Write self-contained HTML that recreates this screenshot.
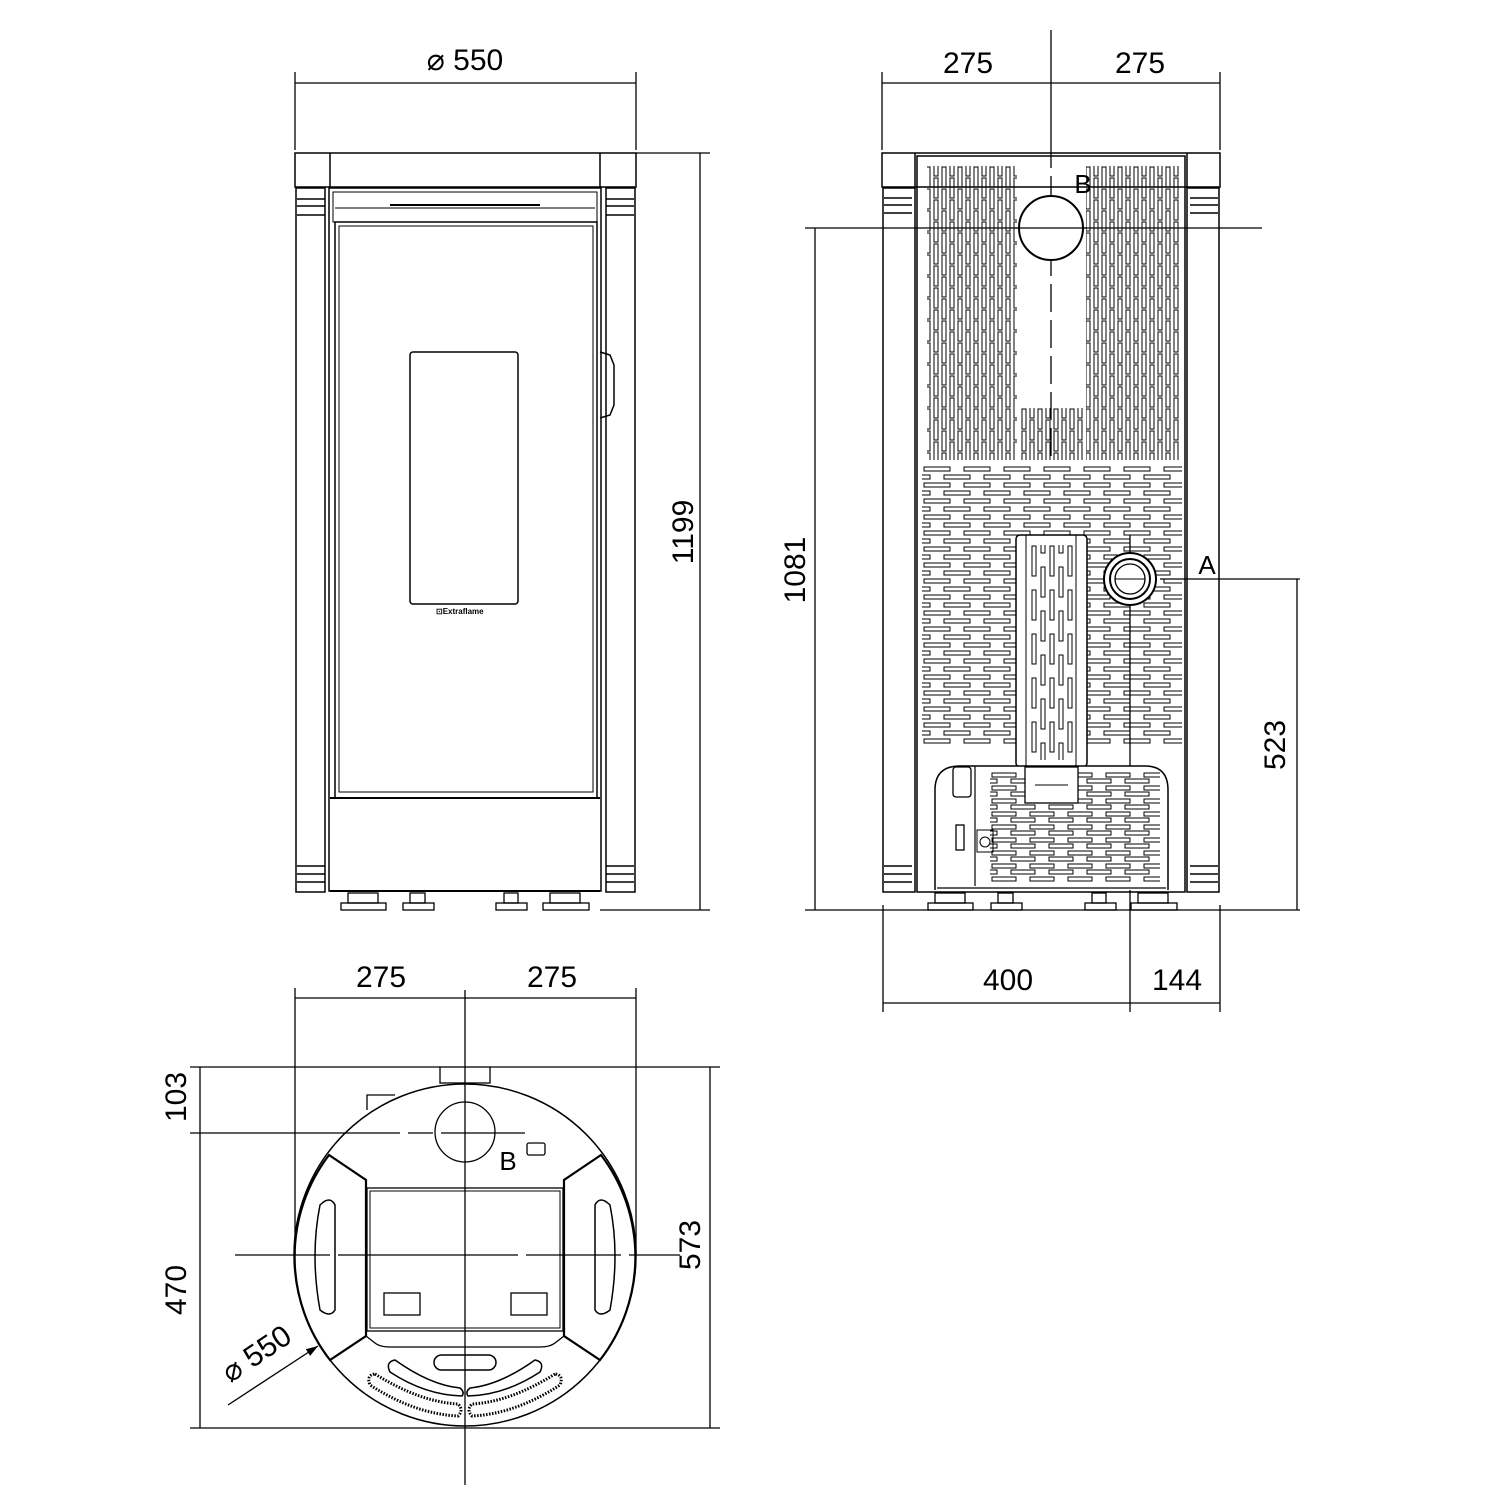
<!DOCTYPE html>
<html><head><meta charset="utf-8"><style>html,body{margin:0;padding:0;background:#fff}svg{display:block}</style></head>
<body>
<svg width="1500" height="1500" viewBox="0 0 1500 1500" xmlns="http://www.w3.org/2000/svg" font-family="Liberation Sans, sans-serif" fill="none" stroke="#000">
<defs>
<pattern id="vs" x="925" y="232" width="16" height="22" patternUnits="userSpaceOnUse">
<rect x="1" y="1" width="4" height="20" stroke-width="1"/>
<rect x="9" y="12" width="4" height="20" stroke-width="1"/>
<rect x="9" y="-10" width="4" height="20" stroke-width="1"/>
</pattern>
<pattern id="hs" x="922" y="466" width="40" height="16" patternUnits="userSpaceOnUse">
<rect x="2" y="1" width="26" height="4" stroke-width="1"/>
<rect x="22" y="9" width="26" height="4" stroke-width="1"/>
<rect x="-18" y="9" width="26" height="4" stroke-width="1"/>
</pattern>
<pattern id="hs2" x="990" y="772" width="38" height="13" patternUnits="userSpaceOnUse">
<rect x="2" y="1" width="24" height="4" stroke-width="1"/>
<rect x="21" y="7" width="24" height="4" stroke-width="1"/>
<rect x="-17" y="7" width="24" height="4" stroke-width="1"/>
</pattern>
<pattern id="ps" x="1030" y="545" width="18" height="44" patternUnits="userSpaceOnUse">
<rect x="2" y="1" width="4" height="30" stroke-width="1"/>
<rect x="11" y="22" width="4" height="30" stroke-width="1"/>
<rect x="11" y="-22" width="4" height="30" stroke-width="1"/>
</pattern>
<marker id="ar" markerWidth="12" markerHeight="8" refX="12" refY="4" orient="auto" markerUnits="userSpaceOnUse"><path d="M0,0 L12,4 L0,8Z" fill="#000" stroke="none"/></marker>
</defs>

<!-- ================= FRONT VIEW ================= -->
<g stroke-width="1.3">
<line x1="295" y1="72" x2="295" y2="150"/><line x1="636" y1="72" x2="636" y2="150"/>
<line x1="295" y1="83" x2="636" y2="83"/>
<line x1="636" y1="153" x2="710" y2="153"/><line x1="600" y1="910" x2="710" y2="910"/>
<line x1="700" y1="153" x2="700" y2="910"/>
</g>
<g fill="#000" stroke="none" font-size="30">
<text x="465" y="70" text-anchor="middle">⌀  550</text>
<text transform="translate(693,532) rotate(-90)" text-anchor="middle">1199</text>
</g>
<g stroke-width="1.5">
<rect x="295" y="153" width="341" height="34"/>
<line x1="330" y1="153" x2="330" y2="187"/><line x1="600" y1="153" x2="600" y2="187"/>
<rect x="296" y="188" width="29" height="704"/>
<rect x="606" y="188" width="29" height="704"/>
<line x1="297" y1="199" x2="325" y2="199"/><line x1="297" y1="206" x2="325" y2="206"/><line x1="297" y1="215" x2="325" y2="215"/>
<line x1="606" y1="199" x2="634" y2="199"/><line x1="606" y1="206" x2="634" y2="206"/><line x1="606" y1="215" x2="634" y2="215"/>
<line x1="297" y1="866" x2="325" y2="866"/><line x1="297" y1="874" x2="325" y2="874"/><line x1="297" y1="882" x2="325" y2="882"/>
<line x1="606" y1="866" x2="634" y2="866"/><line x1="606" y1="874" x2="634" y2="874"/><line x1="606" y1="882" x2="634" y2="882"/>
<rect x="329" y="188" width="272" height="703"/>
<rect x="333" y="192" width="264" height="30" stroke-width="1"/>
<line x1="335" y1="208" x2="595" y2="208" stroke-width="1"/>
<line x1="390" y1="205" x2="540" y2="205" stroke-width="2"/>
<rect x="335" y="222" width="262" height="576"/>
<rect x="339" y="226" width="254" height="566" stroke-width="1"/>
<rect x="410" y="352" width="108" height="252" rx="3"/>
<path d="M600 352 L610 355 L614 365 L614 405 L610 415 L600 418"/>
<line x1="330" y1="798" x2="600" y2="798" stroke-width="2"/>
<line x1="330" y1="891" x2="600" y2="891" stroke-width="2"/>
</g>
<text x="436" y="614" font-size="8" font-weight="bold" fill="#000" stroke="none">⊡Extraflame</text>
<g stroke-width="1.3">
<rect x="341" y="903" width="45" height="7"/><rect x="348" y="893" width="30" height="10"/>
<rect x="403" y="903" width="31" height="7"/><rect x="410" y="893" width="15" height="10"/>
<rect x="496" y="903" width="31" height="7"/><rect x="504" y="893" width="14" height="10"/>
<rect x="543" y="903" width="46" height="7"/><rect x="550" y="893" width="30" height="10"/>
</g>

<!-- ================= REAR VIEW ================= -->
<g stroke-width="1.3">
<line x1="882" y1="72" x2="882" y2="150"/><line x1="1220" y1="72" x2="1220" y2="150"/>
<line x1="882" y1="83" x2="1220" y2="83"/>
<line x1="1051" y1="30" x2="1051" y2="140"/>
<line x1="805" y1="228" x2="1262" y2="228"/>
<line x1="815" y1="228" x2="815" y2="910"/>
<line x1="805" y1="910" x2="1300" y2="910"/>
<line x1="1160" y1="579" x2="1300" y2="579"/>
<line x1="1297" y1="579" x2="1297" y2="910"/>
<line x1="883" y1="905" x2="883" y2="1012"/><line x1="1220" y1="905" x2="1220" y2="1012"/>
<line x1="1130" y1="535" x2="1130" y2="1012"/>
<line x1="883" y1="1003" x2="1220" y2="1003"/>
</g>
<g fill="#000" stroke="none" font-size="30">
<text x="968" y="73" text-anchor="middle">275</text>
<text x="1140" y="73" text-anchor="middle">275</text>
<text transform="translate(805,570) rotate(-90)" text-anchor="middle">1081</text>
<text transform="translate(1285,745) rotate(-90)" text-anchor="middle">523</text>
<text x="1008" y="990" text-anchor="middle">400</text>
<text x="1177" y="990" text-anchor="middle">144</text>
<text x="1207" y="574" text-anchor="middle" font-size="26">A</text>
<text x="1083" y="193" text-anchor="middle" font-size="26">B</text>
</g>
<g stroke-width="1.5">
<rect x="882" y="153" width="338" height="34"/>
<line x1="915" y1="153" x2="915" y2="187"/><line x1="1187" y1="153" x2="1187" y2="187"/>
<rect x="883" y="188" width="32" height="704"/>
<rect x="1187" y="188" width="32" height="704"/>
<line x1="884" y1="198" x2="912" y2="198"/><line x1="884" y1="205" x2="912" y2="205"/><line x1="884" y1="213" x2="912" y2="213"/>
<line x1="1190" y1="198" x2="1218" y2="198"/><line x1="1190" y1="205" x2="1218" y2="205"/><line x1="1190" y1="213" x2="1218" y2="213"/>
<line x1="884" y1="866" x2="912" y2="866"/><line x1="884" y1="874" x2="912" y2="874"/><line x1="884" y1="882" x2="912" y2="882"/>
<line x1="1190" y1="866" x2="1218" y2="866"/><line x1="1190" y1="874" x2="1218" y2="874"/><line x1="1190" y1="882" x2="1218" y2="882"/>
<rect x="917" y="156" width="268" height="736"/>
</g>
<rect x="927" y="166" width="90" height="294" fill="url(#vs)" stroke="none"/>
<rect x="1086" y="166" width="94" height="294" fill="url(#vs)" stroke="none"/>
<rect x="1019" y="408" width="66" height="52" fill="url(#vs)" stroke="none"/>
<line x1="1051" y1="140" x2="1051" y2="460" stroke-width="1.3" stroke-dasharray="28 8"/>
<circle cx="1051" cy="228" r="32" fill="#fff" stroke-width="2"/>
<line x1="1015" y1="228" x2="1087" y2="228" stroke-width="1.3"/>
<rect x="922" y="466" width="260" height="280" fill="url(#hs)" stroke="none"/>
<rect x="1016" y="535" width="71" height="232" rx="4" fill="#fff" stroke-width="1.5"/>
<rect x="1026" y="535" width="50" height="232" stroke-width="1"/>
<rect x="1030" y="545" width="44" height="215" fill="url(#ps)" stroke="none"/>
<circle cx="1130" cy="579" r="26" fill="#fff" stroke-width="2"/>
<circle cx="1130" cy="579" r="20" stroke-width="2"/>
<circle cx="1130" cy="579" r="15" stroke-width="1.3"/>
<line x1="1115" y1="579" x2="1145" y2="579" stroke-width="1"/>
<path d="M935 890 L935 790 Q935 766 960 766 L1145 766 Q1168 766 1168 790 L1168 890" fill="#fff" stroke-width="1.5"/>
<rect x="990" y="772" width="170" height="110" fill="url(#hs2)" stroke="none"/>
<line x1="975" y1="766" x2="975" y2="886" stroke-width="1.2"/>
<rect x="953" y="767" width="18" height="30" rx="3" stroke-width="1.3"/>
<rect x="956" y="825" width="8" height="25" stroke-width="1.3"/>
<rect x="977" y="830" width="16" height="22" stroke-width="1"/><circle cx="985" cy="842" r="5" stroke-width="1"/>
<rect x="1025" y="767" width="53" height="36" fill="#fff" stroke-width="1.3"/>
<line x1="1035" y1="785" x2="1068" y2="785" stroke-width="1"/>
<line x1="937" y1="888" x2="1166" y2="888" stroke-width="1.3"/>
<g stroke-width="1.3">
<rect x="928" y="903" width="45" height="7"/><rect x="935" y="893" width="30" height="10"/>
<rect x="991" y="903" width="31" height="7"/><rect x="998" y="893" width="15" height="10"/>
<rect x="1085" y="903" width="31" height="7"/><rect x="1092" y="893" width="14" height="10"/>
<rect x="1131" y="903" width="46" height="7"/><rect x="1138" y="893" width="30" height="10"/>
</g>

<!-- ================= TOP VIEW ================= -->
<g stroke-width="1.3">
<line x1="295" y1="988" x2="295" y2="1255"/><line x1="636" y1="988" x2="636" y2="1255"/>
<line x1="295" y1="998" x2="636" y2="998"/>
<line x1="465" y1="990" x2="465" y2="1485"/>
<line x1="190" y1="1067" x2="440" y2="1067"/><line x1="490" y1="1067" x2="720" y2="1067"/>
<line x1="190" y1="1133" x2="300" y2="1133"/>
<line x1="300" y1="1133" x2="525" y2="1133" stroke-dasharray="100 8 25 8"/>
<line x1="235" y1="1255" x2="680" y2="1255" stroke-dasharray="95 8 180 8"/>
<line x1="190" y1="1428" x2="720" y2="1428"/>
<line x1="200" y1="1067" x2="200" y2="1428"/>
<line x1="710" y1="1067" x2="710" y2="1428"/>
<line x1="228" y1="1405" x2="318" y2="1346" marker-end="url(#ar)"/>
</g>
<g fill="#000" stroke="none" font-size="30">
<text x="381" y="987" text-anchor="middle">275</text>
<text x="552" y="987" text-anchor="middle">275</text>
<text transform="translate(186,1097) rotate(-90)" text-anchor="middle">103</text>
<text transform="translate(186,1290) rotate(-90)" text-anchor="middle">470</text>
<text transform="translate(700,1245) rotate(-90)" text-anchor="middle">573</text>
<text transform="translate(262,1362) rotate(-34)" text-anchor="middle">⌀  550</text>
<text x="508" y="1170" text-anchor="middle" font-size="26">B</text>
</g>
<g stroke-width="1.8">
<circle cx="465" cy="1255" r="171" stroke-width="1.5"/>
<rect x="440" y="1067" width="50" height="16" stroke-width="1.3"/>
<polyline points="367,1110 367,1095 395,1095" stroke-width="1.3"/>
<circle cx="465" cy="1132" r="30" stroke-width="1.3"/>
<rect x="527" y="1143" width="18" height="12" rx="2" stroke-width="1.3"/>
<path d="M329 1155 L366 1180 L366 1336 L330 1360 A168 168 0 0 1 329 1155Z" stroke-width="2.2"/>
<path d="M601 1155 L564 1180 L564 1336 L600 1360 A168 168 0 0 0 601 1155Z" stroke-width="2.2"/>
<rect x="367" y="1188" width="196" height="143" stroke-width="1.3"/>
<rect x="370" y="1191" width="190" height="137" stroke-width="1"/>
<path d="M366 1336 L375 1343 Q380 1347 390 1347 L540 1347 Q550 1347 555 1343 L564 1336" stroke-width="1.3"/>
<path d="M320 1205 Q310 1255 320 1310 Q330 1318 335 1310 L335 1205 Q330 1195 320 1205Z" stroke-width="1.5"/>
<path d="M610 1205 Q620 1255 610 1310 Q600 1318 595 1310 L595 1205 Q600 1195 610 1205Z" stroke-width="1.5"/>
<rect x="384" y="1293" width="36" height="22" stroke-width="1.3"/>
<rect x="511" y="1293" width="36" height="22" stroke-width="1.3"/>
<rect x="434" y="1355" width="62" height="15" rx="7.5" stroke-width="1.5"/>
<path d="M395 1360 Q430 1385 460 1388 Q465 1392 462 1396 Q425 1395 390 1372 Q385 1362 395 1360Z" stroke-width="1.5"/>
<path d="M535 1360 Q500 1385 470 1388 Q465 1392 468 1396 Q505 1395 540 1372 Q545 1362 535 1360Z" stroke-width="1.5"/>
<path d="M375 1374 Q420 1402 458 1404 Q464 1410 458 1416 Q415 1414 370 1385 Q366 1375 375 1374Z" stroke-width="3" stroke-dasharray="1.5 1.5"/>
<path d="M555 1374 Q510 1402 472 1404 Q466 1410 472 1416 Q515 1414 560 1385 Q564 1375 555 1374Z" stroke-width="3" stroke-dasharray="1.5 1.5"/>
</g>
</svg>
</body></html>
